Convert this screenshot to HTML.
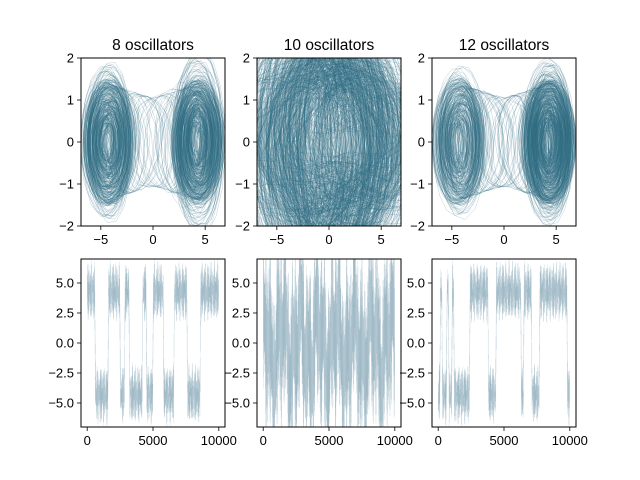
<!DOCTYPE html>
<html><head><meta charset="utf-8"><style>
html,body{margin:0;padding:0;background:#fff;}
svg{display:block;font-family:"Liberation Sans","DejaVu Sans",sans-serif;}
</style></head><body>
<svg id="fig" width="640" height="480" viewBox="0 0 640 480">
<rect width="640" height="480" fill="#fff"/>
</svg>
<script>
// ---- data (segments: [startStep, endStep, well]) ----
const titles = ["8 oscillators", "10 oscillators", "12 oscillators"];
const segments8 = [[0,600,1],[600,1600,-1],[1600,2500,1],[2500,2850,-1],[2850,3200,1],[3200,4200,-1],[4200,4500,1],[4500,5000,-1],[5000,5800,1],[5800,6600,-1],[6600,7600,1],[7600,8600,-1],[8600,10000,1]];
const segments10 = [[0,10000,0]];
const segments12 = [[0,150,-1],[150,300,1],[300,650,-1],[650,800,1],[800,1050,-1],[1050,1200,1],[1200,2400,-1],[2400,3800,1],[3800,4400,-1],[4400,6300,1],[6300,6500,-1],[6500,7100,1],[7100,7700,-1],[7700,9800,1],[9800,10000,-1]];
const allSegments = [segments8, segments10, segments12];
const wellCenter = 4.3;
const nSteps = 10000;
const phaseTicksX = [-5, 0, 5];
const phaseTicksY = [-2, -1, 0, 1, 2];
const timeTicksX = [0, 5000, 10000];
const timeTicksY = [-5.0, -2.5, 0.0, 2.5, 5.0];

// ---- layout ----
const colsX = [[81,225],[257,401],[432,576]];
const topY = [58,226], botY = [259,427];
const phaseXDom = [-6.9, 6.9], phaseYDom = [-2, 2];
const timeXDom = [-470, 10470], timeYDom = [-7, 7];
const NS = "http://www.w3.org/2000/svg";
const svg = document.getElementById('fig');
function mk(tag, attrs, parent){ const e=document.createElementNS(NS,tag); for(const k in attrs) e.setAttribute(k,attrs[k]); (parent||svg).appendChild(e); return e; }
function scale(d, r){ return v => r[0] + (v-d[0])/(d[1]-d[0])*(r[1]-r[0]); }

function smooth(t){ return t<0?0:t>1?1:t*t*(3-2*t); }
function simulate(segs, seed){
  const xs=[], vs=[];
  let phi = seed;
  for(let t=0;t<nSteps;t++){
    let si = segs.findIndex(s=>t>=s[0]&&t<s[1]); if(si<0) si=segs.length-1;
    const s = segs[si];
    let c = s[2]*wellCenter;
    const blend=40;
    if(si>0 && t-s[0]<blend){ const p=segs[si-1][2]*wellCenter; c = p + (c-p)*smooth((t-s[0])/blend*0.5+0.5); }
    if(si<segs.length-1 && s[1]-t<blend){ const n=segs[si+1][2]*wellCenter; c = c + (n-c)*smooth(0.5-(s[1]-t)/blend*0.5); }
    let A, vA, x, v;
    phi += 0.4 + 0.05*Math.sin(t*0.013);
    if(s[2]===0){
      const cc = 4.0*Math.sin(t*0.0031+seed)*Math.cos(t*0.0077);
      A = 2.5 + 5.5*Math.abs(Math.sin(t*0.0113+seed)*Math.cos(t*0.0297));
      vA = 0.8 + 2.6*(0.5+0.5*Math.sin(t*0.0171+2*seed)*Math.cos(t*0.0061));
      x = cc + A*Math.cos(phi);
      v = vA*Math.sin(phi) + 0.6*Math.sin(2*phi+t*0.01);
    } else {
      const f = Math.pow(Math.abs(Math.sin(t*0.0131+seed)*Math.cos(t*0.0373+seed)), 0.6);
      const g = 0.5+0.5*Math.sin(t*0.0191+seed)*Math.cos(t*0.0057);
      A = 0.25 + 2.1*f;
      vA = 0.15 + 1.7*Math.max(f*0.8, g*f + 0.25*g);
      const trans = Math.abs(c) < wellCenter*0.95;
      if(trans){ A = Math.max(A, 2.0); vA = Math.max(vA, 1.4); }
      const off = s[2]*0.35*Math.sin(t*0.047);
      x = c + off + A*Math.cos(phi);
      v = vA*Math.sin(phi);
      if(trans) v *= (0.75 + 0.25*Math.abs(x)/wellCenter);
    }
    xs.push(x);
    vs.push(v);
  }
  return [xs, vs];
}

function axesFrame(x0,x1,y0,y1,name){
  const r=mk('rect',{x:x0,y:y0,width:x1-x0,height:y1-y0,fill:'none',stroke:'#000','stroke-width':1});
  
  
}
function ticks(sx, sy, xt, yt, x0,x1,y0,y1, fmtX, fmtY, name){
  xt.forEach(v=>{ const px=sx(v);
    mk('line',{x1:px,x2:px,y1:y1,y2:y1+4,stroke:'#000','stroke-width':0.8});
    const tx=mk('text',{x:px,y:y1+18,'text-anchor':'middle','font-size':13});
    tx.textContent=fmtX(v);
    
    
  });
  yt.forEach(v=>{ const py=sy(v);
    mk('line',{x1:x0-4,x2:x0,y1:py,y2:py,stroke:'#000','stroke-width':0.8});
    const tx=mk('text',{x:x0-7,y:py+4.5,'text-anchor':'end','font-size':13});
    tx.textContent=fmtY(v);
    
    
  });
}
const fmtInt = v => (v<0?'\u2212':'')+Math.abs(v);
const fmt1 = v => (v<0?'\u2212':'')+Math.abs(v).toFixed(1);
const color = '#2f6c82';

for(let i=0;i<3;i++){
  const [xs, vs] = simulate(allSegments[i], 0.7+i*1.3);
  const [x0,x1]=colsX[i];
  const g1 = mk('g',{});
  
  
  const cp1 = mk('clipPath',{id:'cpA'+i}); mk('rect',{x:x0,y:topY[0],width:x1-x0,height:topY[1]-topY[0]},cp1);
  const sx=scale(phaseXDom,[x0,x1]), sy=scale(phaseYDom,[topY[1],topY[0]]);
  let pts=''; for(let t=0;t<nSteps;t++) pts+=sx(xs[t]).toFixed(1)+','+sy(vs[t]).toFixed(1)+' ';
  const pl=mk('polyline',{points:pts,fill:'none',stroke:color,'stroke-width':0.35,'stroke-opacity':0.45,'clip-path':'url(#cpA'+i+')'},g1);
  
  
  axesFrame(x0,x1,topY[0],topY[1],'phase-panel-'+(i+1));
  ticks(sx,sy,phaseTicksX,phaseTicksY,x0,x1,topY[0],topY[1],fmtInt,fmtInt,'phase-panel-'+(i+1));
  const tt=mk('text',{x:(x0+x1)/2,y:50,'text-anchor':'middle','font-size':15.5});
  tt.textContent=titles[i];
  
  
  const g2 = mk('g',{});
  
  
  const cp2 = mk('clipPath',{id:'cpB'+i}); mk('rect',{x:x0,y:botY[0],width:x1-x0,height:botY[1]-botY[0]},cp2);
  const tx=scale(timeXDom,[x0,x1]), ty=scale(timeYDom,[botY[1],botY[0]]);
  let p2=''; for(let t=0;t<nSteps;t++) p2+=tx(t).toFixed(2)+','+ty(xs[t]).toFixed(1)+' ';
  const pl2=mk('polyline',{points:p2,fill:'none',stroke:color,'stroke-width':0.3,'stroke-opacity':0.18,'clip-path':'url(#cpB'+i+')'},g2);
  
  
  axesFrame(x0,x1,botY[0],botY[1],'timeseries-panel-'+(i+1));
  ticks(tx,ty,timeTicksX,timeTicksY,x0,x1,botY[0],botY[1],v=>String(v),fmt1,'timeseries-panel-'+(i+1));
}
</script>
</body></html>
